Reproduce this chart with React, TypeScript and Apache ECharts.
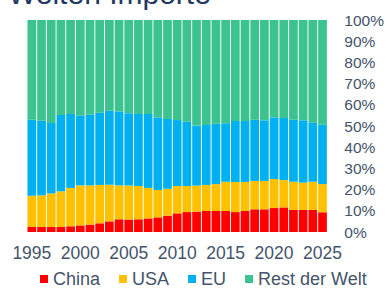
import React, { useEffect, useRef } from "react";
import * as echarts from "echarts";

const years = [
  "1995", "1996", "1997", "1998", "1999", "2000", "2001", "2002", "2003", "2004",
  "2005", "2006", "2007", "2008", "2009", "2010", "2011", "2012", "2013", "2014",
  "2015", "2016", "2017", "2018", "2019", "2020", "2021", "2022", "2023", "2024", "2025",
];

const china = [
  2.4, 2.4, 2.4, 2.4, 2.7, 3.1, 3.5, 4.1, 5.0, 6.0,
  5.9, 6.0, 6.4, 6.9, 7.7, 8.8, 9.4, 9.6, 9.9, 9.9,
  9.9, 9.4, 9.9, 10.7, 10.7, 11.3, 11.6, 10.4, 10.4, 10.4, 9.3,
];
const usa = [
  14.7, 14.9, 15.8, 16.8, 18.1, 18.9, 18.5, 18.1, 17.3, 16.0,
  16.0, 15.7, 14.4, 12.9, 12.7, 12.9, 12.3, 12.3, 12.3, 12.7,
  13.8, 14.2, 13.7, 13.4, 13.4, 13.7, 12.9, 13.3, 12.9, 13.3, 13.3,
];
const eu = [
  35.9, 35.2, 33.2, 36.0, 34.9, 33.0, 33.3, 34.1, 34.9, 34.9,
  34.1, 34.0, 34.9, 34.3, 32.9, 31.1, 30.3, 28.3, 28.3, 28.5,
  27.6, 28.8, 28.8, 28.9, 28.6, 29.1, 29.3, 29.3, 29.4, 28.0, 28.0,
];
const rest = [
  47.0, 47.5, 48.6, 44.8, 44.3, 45.0, 44.7, 43.7, 42.8, 43.1,
  44.0, 44.3, 44.3, 45.9, 46.7, 47.2, 48.0, 49.8, 49.5, 48.9,
  48.7, 47.6, 47.6, 47.0, 47.3, 45.9, 46.2, 47.0, 47.3, 48.3, 49.4,
];

const seriesNames = ["China", "USA", "EU", "Rest der Welt"];
const seriesColors = ["#FF0000", "#FFC000", "#00B0F0", "#3DC38F"];
const titleText = "Welten Importe";

const FONT = "'Liberation Sans', Arial, sans-serif";
const TEXT = "#44546A";

export default function App() {
  const ref = useRef<HTMLDivElement>(null);
  useEffect(() => {
    if (!ref.current) return;
    const chart = echarts.init(ref.current, null, { renderer: "svg" });
    const data = [china, usa, eu, rest];
    chart.setOption({
      animation: false,
      backgroundColor: "#ffffff",
      title: {
        text: titleText,
        left: 8,
        top: -22,
        padding: 0,
        textStyle: { fontSize: 30, fontWeight: "normal", color: "#1F3864", fontFamily: FONT },
      },
      legend: {
        left: 40,
        top: 270,
        padding: 0,
        itemWidth: 8,
        itemHeight: 8,
        itemGap: 19,
        icon: "rect",
        textStyle: { fontSize: 18, color: TEXT, fontFamily: FONT },
        data: seriesNames,
      },
      grid: { left: 27, right: 52, top: 20, bottom: 56 },
      xAxis: {
        type: "category",
        data: years,
        axisLine: { show: false },
        axisTick: { show: false },
        axisLabel: { interval: 4, fontSize: 17.5, color: TEXT, fontFamily: FONT, margin: 12 },
      },
      yAxis: {
        type: "value",
        position: "right",
        min: 0,
        max: 100,
        interval: 10,
        splitLine: { show: false },
        axisLine: { show: false },
        axisTick: { show: false },
        axisLabel: { formatter: "{value}%", fontSize: 15.5, color: TEXT, fontFamily: FONT, margin: 17 },
      },
      series: seriesNames.map((name, i) => ({
        name,
        type: "bar",
        stack: "total",
        barCategoryGap: "10%",
        itemStyle: { color: seriesColors[i] },
        data: data[i],
      })),
    });
    return () => chart.dispose();
  }, []);
  return <div ref={ref} style={{ width: 387, height: 288, position: "absolute", left: 0, top: 0 }} />;
}
